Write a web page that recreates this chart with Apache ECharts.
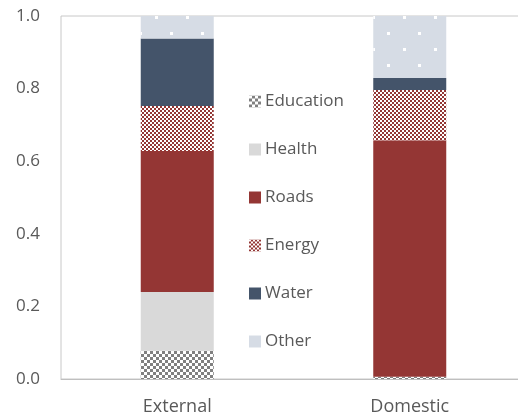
<!DOCTYPE html>
<html>
<head>
<meta charset="utf-8">
<script src="https://cdn.jsdelivr.net/npm/echarts@6/dist/echarts.min.js"></script>
<style>html,body{margin:0;padding:0;background:#fff}#c{width:518px;height:419px}</style>
</head>
<body>
<div id="c"></div>
<script>
const categories = ['External', 'Domestic'];
const education = [0.078, 0.006];
const health = [0.162, 0.0];
const roads = [0.388, 0.652];
const energy = [0.124, 0.138];
const water = [0.186, 0.033];
const other = [0.062, 0.171];
const yTicks = [0, 0.2, 0.4, 0.6, 0.8, 1.0];

const FONT = '"Open Sans", "Noto Sans", sans-serif';
const TXT = '#595959';

function s(name, data, color, decal) {
  const o = { name, type: 'bar', stack: 'a', data, barWidth: 73,
    itemStyle: { color }, emphasis: { disabled: true } };
  if (decal) o.itemStyle.decal = decal;
  return o;
}

const chart = echarts.init(document.getElementById('c'), null, { renderer: 'canvas' });
chart.setOption({
  animation: false,
  aria: { enabled: false, decal: { show: false } },
  grid: { left: 61, width: 465, top: 16, bottom: 40, outerBoundsMode: 'none', containLabel: false,
    show: true, borderColor: '#c8c8c8', borderWidth: 1, backgroundColor: 'transparent' },
  legend: {
    orient: 'vertical', left: 244, top: 88, itemWidth: 12, itemHeight: 12, itemGap: 31,
    icon: 'rect',
    textStyle: { fontFamily: FONT, fontSize: 17, color: TXT, padding: [0, 0, 0, -1] },
    data: ['Education', 'Health', 'Roads', 'Energy', 'Water', 'Other']
  },
  xAxis: {
    type: 'category', data: categories,
    axisLine: { show: true, lineStyle: { color: '#bfbfbf', width: 1 } },
    axisTick: { show: false },
    axisLabel: { fontFamily: FONT, fontSize: 18, color: TXT, margin: 19 }
  },
  yAxis: {
    type: 'value', min: 0, max: 1.0, interval: 0.2,
    axisLine: { show: false }, axisTick: { show: false }, splitLine: { show: false },
    axisLabel: { fontFamily: FONT, fontSize: 17, color: TXT, margin: 21,
      formatter: v => v.toFixed(1) }
  },
  series: [
    s('Education', education, '#ffffff', { symbol: 'rect', symbolSize: 1, color: '#808080',
      dashArrayX: [[3, 3], [0, 3, 3, 0]], dashArrayY: [3, 0] }),
    s('Health', health, '#d9d9d9'),
    s('Roads', roads, '#943634'),
    s('Energy', energy, '#ffffff', { symbol: 'rect', symbolSize: 1, color: '#943634',
      dashArrayX: [[2, 2], [0, 2, 2, 0]], dashArrayY: [2, 0] }),
    s('Water', water, '#44546a'),
    s('Other', other, '#d6dce5', { symbol: 'rect', symbolSize: 1, color: '#ffffff',
      dashArrayX: [[3, 28], [0, 15, 3, 13]], dashArrayY: [3, 13] })
  ]
});
</script>
</body>
</html>
